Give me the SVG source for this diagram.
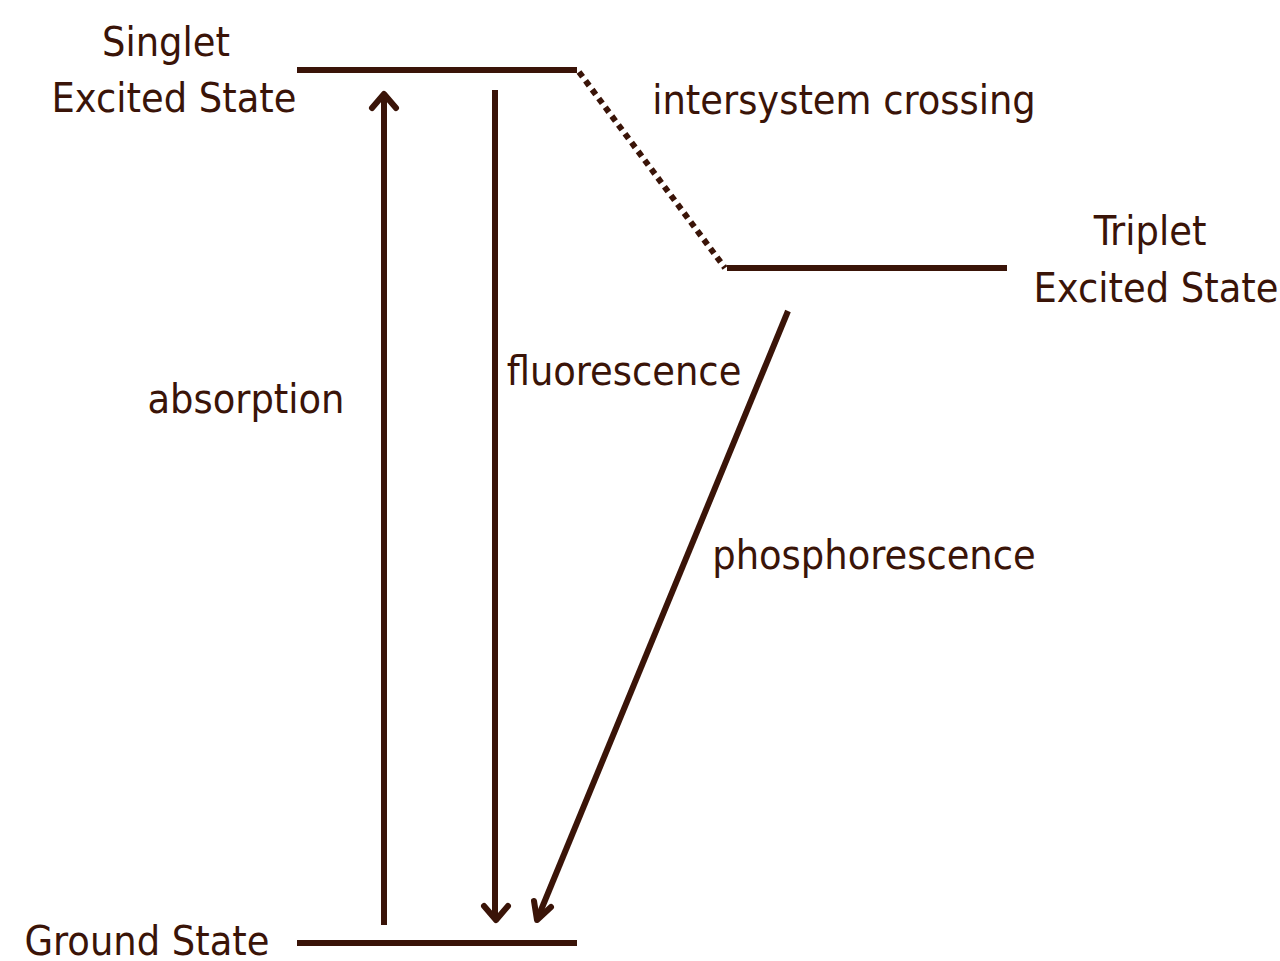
<svg xmlns="http://www.w3.org/2000/svg" width="1280" height="961" viewBox="0 0 1280 961">
<style>
text{font-family:'DejaVu Sans Condensed','DejaVu Sans',sans-serif;font-stretch:condensed;font-size:41px;fill:#3a1408;text-anchor:middle}
.lvl{stroke:#3a1408;stroke-width:6;fill:none}
.arr{stroke:#3a1408;stroke-width:6;fill:none;stroke-linecap:butt}
.head{stroke:#3a1408;stroke-width:6;fill:none;stroke-linecap:round;stroke-linejoin:round}
</style>
<rect width="1280" height="961" fill="#ffffff"/>
<g id="singlet">
<line class="lvl" x1="297" y1="70" x2="577" y2="70"/>
<text x="166" y="56">Singlet</text>
<text x="174" y="112">Excited State</text>
</g>
<g id="triplet">
<line class="lvl" x1="727" y1="268" x2="1007" y2="268"/>
<text x="1150" y="245">Triplet</text>
<text x="1156" y="302">Excited State</text>
</g>
<g id="ground">
<line class="lvl" x1="297" y1="943" x2="577" y2="943"/>
<text x="147" y="955">Ground State</text>
</g>
<g id="connectors">
<line class="lvl" x1="579" y1="72" x2="725" y2="268" stroke-dasharray="6 5"/>
<line class="arr" x1="384" y1="925" x2="384" y2="96"/>
<polyline class="head" points="372,108 384,94 396,108"/>
<line class="arr" x1="495" y1="90" x2="495" y2="919"/>
<polyline class="head" points="484,906 496,920 508,906"/>
<line class="arr" x1="788" y1="311" x2="539" y2="915"/>
<polyline class="head" points="534,901 537,920 551,907"/>
</g>
<g id="labels">
<text x="844" y="114">intersystem crossing</text>
<text x="246" y="413">absorption</text>
<text x="624" y="385">fluorescence</text>
<text x="874" y="569">phosphorescence</text>
</g>
</svg>
